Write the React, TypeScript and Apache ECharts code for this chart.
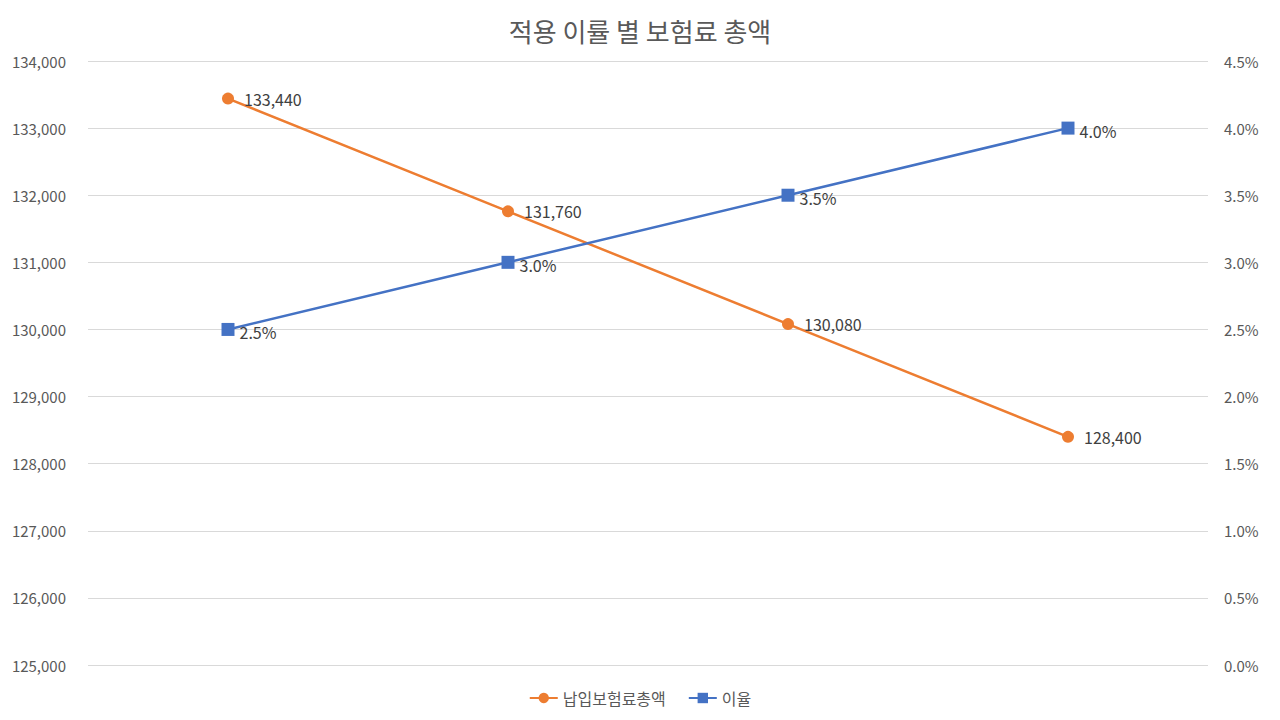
import React, { useEffect, useRef } from "react";
import * as echarts from "echarts";

const title = "적용 이률 별 보험료 총액";
const categories = ["2.5%", "3.0%", "3.5%", "4.0%"];
const premiumName = "납입보험료총액";
const premiumValues = [133440, 131760, 130080, 128400];
const rateName = "이율";
const rateValues = [2.5, 3.0, 3.5, 4.0];

const FONT = "'Noto Sans CJK KR', 'Noto Sans', sans-serif";

export default function App() {
  const ref = useRef<HTMLDivElement>(null);
  useEffect(() => {
    if (!ref.current) return;
    const chart = echarts.init(ref.current, undefined, { renderer: "svg" });
    chart.setOption({
      animation: false,
      textStyle: { fontFamily: FONT },
      title: {
        text: title,
        left: "center",
        top: 12,
        textStyle: { fontSize: 26, fontWeight: "normal", color: "#595959", fontFamily: FONT },
      },
      grid: { left: 88, right: 72, top: 61, bottom: 55, containLabel: false },
      legend: {
        bottom: 9,
        left: "center",
        itemWidth: 28,
        itemHeight: 13,
        itemGap: 22,
        textStyle: { fontSize: 16, color: "#595959", fontFamily: FONT },
        data: [premiumName, rateName],
      },
      xAxis: {
        type: "category",
        data: categories,
        boundaryGap: true,
        axisLine: { show: false },
        axisTick: { show: false },
        axisLabel: { show: false },
      },
      yAxis: [
        {
          type: "value",
          min: 125000,
          max: 134000,
          interval: 1000,
          axisLine: { show: false },
          axisTick: { show: false },
          axisLabel: {
            fontSize: 15,
            color: "#595959",
            margin: 22,
            formatter: (v: number) => v.toLocaleString("en-US"),
          },
          splitLine: { lineStyle: { color: "#d9d9d9", width: 1 } },
        },
        {
          type: "value",
          min: 0,
          max: 4.5,
          interval: 0.5,
          position: "right",
          axisLine: { show: false },
          axisTick: { show: false },
          axisLabel: {
            fontSize: 15,
            color: "#595959",
            margin: 16,
            formatter: (v: number) => `${v.toFixed(1)}%`,
          },
          splitLine: { show: false },
        },
      ],
      series: [
        {
          name: premiumName,
          type: "line",
          yAxisIndex: 0,
          data: premiumValues,
          symbol: "circle",
          symbolSize: 12,
          lineStyle: { color: "#ED7D31", width: 2.5 },
          itemStyle: { color: "#ED7D31" },
          label: {
            show: true,
            position: "right",
            distance: 10,
            fontSize: 16,
            color: "#404040",
            formatter: (p: any) => Number(p.value).toLocaleString("en-US"),
          },
        },
        {
          name: rateName,
          type: "line",
          yAxisIndex: 1,
          data: rateValues,
          symbol: "rect",
          symbolSize: 13,
          lineStyle: { color: "#4472C4", width: 2.5 },
          itemStyle: { color: "#4472C4" },
          label: {
            show: true,
            position: "right",
            distance: 5,
            offset: [0, 3],
            fontSize: 16,
            color: "#404040",
            formatter: (p: any) => `${Number(p.value).toFixed(1)}%`,
          },
        },
      ],
    });
    return () => chart.dispose();
  }, []);
  return <div ref={ref} style={{ width: 1280, height: 720, position: "absolute", left: 0, top: 0 }} />;
}
